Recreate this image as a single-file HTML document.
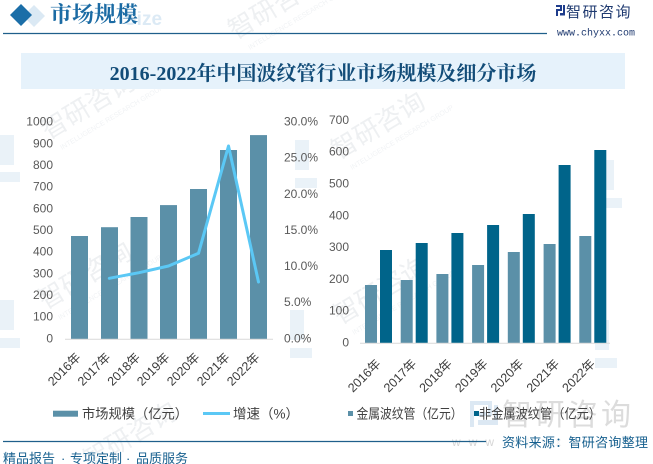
<!DOCTYPE html>
<html><head><meta charset="utf-8"><style>
html,body{margin:0;padding:0;background:#fff;}
svg{display:block;}
text{font-family:"Liberation Sans","Noto Sans CJK SC",sans-serif;}
.ax{font-size:12px;fill:#595959;}
.xl{font-size:12.5px;fill:#3a3a3a;}
.lg{font-size:13.5px;fill:#404040;}
.wm{font-family:"Liberation Sans","Noto Sans CJK SC",sans-serif;fill:#eef0f2;font-size:26px;}
.wm2{fill:#f1f3f5;font-size:7px;}
</style></head><body>
<svg width="653" height="464" viewBox="0 0 653 464" xmlns="http://www.w3.org/2000/svg">
<rect width="653" height="464" fill="#fff"/>
<!-- watermarks -->
<g>
<text class="wm" transform="translate(48,140) rotate(-31)">智研咨询</text>
<text class="wm2" transform="translate(62,150) rotate(-31)">INTELLIGENCE RESEARCH GROUP</text>
<text class="wm" transform="translate(45,310) rotate(-31)">智研咨询</text>
<text class="wm2" transform="translate(60,320) rotate(-31)">INTELLIGENCE RESEARCH GROUP</text>
<text class="wm" transform="translate(338,160) rotate(-31)">智研咨询</text>
<text class="wm2" transform="translate(352,170) rotate(-31)">INTELLIGENCE RESEARCH GROUP</text>
<text class="wm" transform="translate(340,325) rotate(-31)">智研咨询</text>
<text class="wm2" transform="translate(354,335) rotate(-31)">INTELLIGENCE RESEARCH GROUP</text>
<text class="wm" transform="translate(90,470) rotate(-31)">智研咨询</text>
<text class="wm" transform="translate(235,40) rotate(-31)">智研咨询</text>
<text class="wm2" transform="translate(250,50) rotate(-31)">INTELLIGENCE RESEARCH GROUP</text>
<g fill="#eaf2f8">
<rect x="0" y="135" width="14" height="30"/><rect x="0" y="172" width="20" height="10"/>
<rect x="0" y="300" width="14" height="30"/><rect x="0" y="338" width="20" height="10"/>
<rect x="295" y="140" width="14" height="30"/><rect x="295" y="178" width="22" height="10"/>
<rect x="600" y="160" width="14" height="30"/><rect x="600" y="198" width="22" height="10"/>
<rect x="595" y="320" width="14" height="30"/><rect x="595" y="358" width="22" height="10"/>
<rect x="290" y="310" width="14" height="30"/><rect x="290" y="348" width="22" height="10"/>
</g>
</g>

<!-- header -->
<path d="M34,5 L45,16 L34,27 L23,16 Z" fill="#dbe9f4"/>
<path d="M21,4 L32,15 L21,26 L10,15 Z" fill="#1b6ea8"/>
<text x="124" y="25" style="font-size:19px;font-weight:bold;fill:#dceaf5;font-family:'Liberation Sans',sans-serif">Size</text>
<text x="50" y="22" style="font-family:'Liberation Serif','Noto Serif CJK SC',serif;font-size:22px;font-weight:bold;fill:#1b6ba4">市场规模</text>
<line x1="3" y1="33.5" x2="547" y2="33.5" stroke="#1f5f8b" stroke-width="1.3"/>
<!-- logo -->
<g fill="#1e3c8c">
<rect x="556" y="5" width="6" height="2"/><rect x="560" y="5" width="2" height="6"/><rect x="556" y="9" width="6" height="2"/><rect x="556" y="9" width="2" height="7"/>
<rect x="563" y="5" width="2" height="8"/><rect x="560" y="13" width="5" height="2.5"/>
</g>
<text x="566" y="17" style="font-size:15px;fill:#1f3a70;letter-spacing:1.5px">智研咨询</text>
<text x="557" y="35.5" style="font-family:'Liberation Mono',monospace;font-size:10px;fill:#1f3a70">www.chyxx.com</text>

<!-- title box -->
<rect x="21" y="53" width="604" height="36" fill="#e6f2fb"/>
<text x="323" y="80" text-anchor="middle" style="font-family:'Liberation Serif','Noto Serif CJK SC',serif;font-size:20px;font-weight:bold;fill:#124c78">2016-2022年中国波纹管行业市场规模及细分市场</text>

<!-- left chart -->
<g class="ax" text-anchor="end">
<text x="53" y="125.6">1000</text>
<text x="53" y="147.3">900</text>
<text x="53" y="169">800</text>
<text x="53" y="190.6">700</text>
<text x="53" y="212.3">600</text>
<text x="53" y="234">500</text>
<text x="53" y="255.6">400</text>
<text x="53" y="277.3">300</text>
<text x="53" y="299">200</text>
<text x="53" y="320.6">100</text>
<text x="53" y="342.3">0</text>
</g>
<g class="ax">
<text x="284" y="125.6">30.0%</text>
<text x="284" y="161.7">25.0%</text>
<text x="284" y="197.9">20.0%</text>
<text x="284" y="234">15.0%</text>
<text x="284" y="270.1">10.0%</text>
<text x="284" y="306.2">5.0%</text>
<text x="284" y="342.3">0.0%</text>
</g>
<g fill="#5b90a8">
<rect x="71" y="236" width="17" height="103"/>
<rect x="101" y="227.2" width="17" height="111.8"/>
<rect x="130.5" y="217" width="17" height="122"/>
<rect x="160" y="205.1" width="17" height="133.9"/>
<rect x="190" y="189" width="17" height="150"/>
<rect x="220" y="150" width="17" height="189"/>
<rect x="250" y="135.1" width="17" height="203.9"/>
</g>
<line x1="65" y1="339.3" x2="273" y2="339.3" stroke="#d9d9d9" stroke-width="1"/>
<polyline points="109.3,278.3 139,272.7 168.5,266 198.5,253.3 228.5,146 258.5,282" fill="none" stroke="#5bc8f5" stroke-width="3" stroke-linejoin="round" stroke-linecap="round"/>
<g class="xl" text-anchor="end">
<text transform="translate(81.5,358) rotate(-45)">2016年</text>
<text transform="translate(111.3,358) rotate(-45)">2017年</text>
<text transform="translate(141,358) rotate(-45)">2018年</text>
<text transform="translate(170.5,358) rotate(-45)">2019年</text>
<text transform="translate(200.5,358) rotate(-45)">2020年</text>
<text transform="translate(230.5,358) rotate(-45)">2021年</text>
<text transform="translate(260.5,358) rotate(-45)">2022年</text>
</g>

<!-- right chart -->
<g class="ax" text-anchor="end">
<text x="349" y="124">700</text>
<text x="349" y="155.7">600</text>
<text x="349" y="187.5">500</text>
<text x="349" y="219.3">400</text>
<text x="349" y="251">300</text>
<text x="349" y="282.8">200</text>
<text x="349" y="314.5">100</text>
<text x="349" y="346.3">0</text>
</g>
<g fill="#5b90a8">
<rect x="365" y="285" width="12" height="58"/>
<rect x="400.7" y="280" width="12" height="63"/>
<rect x="436.4" y="274" width="12" height="69"/>
<rect x="472.1" y="265" width="12" height="78"/>
<rect x="507.8" y="252" width="12" height="91"/>
<rect x="543.6" y="244" width="12" height="99"/>
<rect x="579.3" y="236" width="12" height="107"/>
</g>
<g fill="#00648a">
<rect x="380" y="250" width="12" height="93"/>
<rect x="415.7" y="243" width="12" height="100"/>
<rect x="451.4" y="233" width="12" height="110"/>
<rect x="487.1" y="225" width="12" height="118"/>
<rect x="522.8" y="214" width="12" height="129"/>
<rect x="558.6" y="165" width="12" height="178"/>
<rect x="594.3" y="150" width="12" height="193"/>
</g>
<line x1="360" y1="343.3" x2="610" y2="343.3" stroke="#d9d9d9" stroke-width="1"/>
<g class="xl" text-anchor="end">
<text transform="translate(381.5,364.5) rotate(-45)">2016年</text>
<text transform="translate(417.2,364.5) rotate(-45)">2017年</text>
<text transform="translate(452.9,364.5) rotate(-45)">2018年</text>
<text transform="translate(488.6,364.5) rotate(-45)">2019年</text>
<text transform="translate(524.3,364.5) rotate(-45)">2020年</text>
<text transform="translate(560.1,364.5) rotate(-45)">2021年</text>
<text transform="translate(595.8,364.5) rotate(-45)">2022年</text>
</g>

<!-- big bottom-right watermark -->
<g fill="#dce8f3">
<rect x="470" y="401" width="22" height="4"/><rect x="470" y="401" width="4" height="26"/><rect x="470" y="412" width="16" height="4"/>
<rect x="488" y="401" width="4" height="15"/><rect x="478" y="420" width="18" height="5"/><rect x="494" y="405" width="4" height="20"/>
</g>
<text x="502" y="425" style="font-size:30px;fill:#dcdcdc;letter-spacing:3px">智研咨询</text>
<text x="452" y="446" style="font-size:12px;fill:#d6d6d6;letter-spacing:8px;font-family:'Liberation Sans',sans-serif">www.chyxx.com</text>

<!-- legends -->
<rect x="53" y="410.7" width="25" height="6" fill="#5b90a8"/>
<text class="lg" x="82" y="418.5" textLength="106" lengthAdjust="spacingAndGlyphs">市场规模（亿元）</text>
<line x1="203" y1="413.5" x2="230" y2="413.5" stroke="#5bc8f5" stroke-width="3"/>
<text class="lg" x="233" y="418.5">增速（%）</text>
<rect x="348" y="411" width="5" height="5" fill="#5b90a8"/>
<text class="lg" x="356.5" y="418.5" textLength="106" lengthAdjust="spacingAndGlyphs">金属波纹管（亿元）</text>
<rect x="474" y="411" width="5" height="5" fill="#00648a"/>
<text class="lg" x="479" y="418.5" textLength="122" lengthAdjust="spacingAndGlyphs">非金属波纹管（亿元）</text>

<!-- footer -->
<line x1="3" y1="441.5" x2="486" y2="441.5" stroke="#1f5f8b" stroke-width="1.3"/>
<rect x="498" y="433" width="153" height="18" fill="#fff" opacity="0.7"/>
<text x="502" y="447" style="font-size:13px;fill:#17608f;letter-spacing:0.3px">资料来源：智研咨询整理</text>
<g style="font-size:13px;fill:#17608f">
<text x="3" y="463">精品报告</text>
<text x="61" y="463">·</text>
<text x="70" y="463">专项定制</text>
<text x="126" y="463">·</text>
<text x="136" y="463">品质服务</text>
</g>
</svg>
</body></html>
